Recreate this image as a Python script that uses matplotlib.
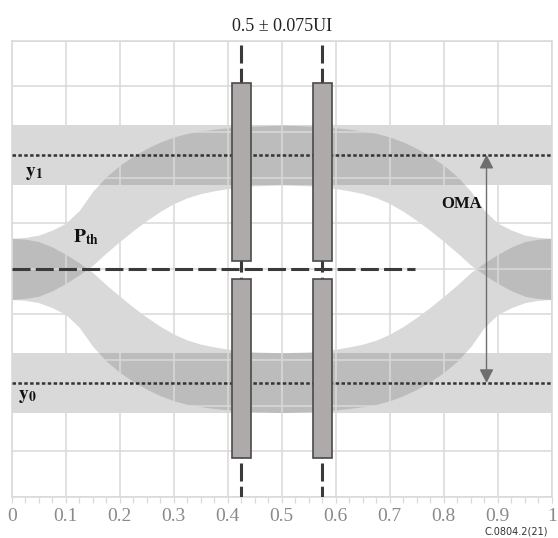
import numpy as np
import matplotlib
matplotlib.use("Agg")
import matplotlib.pyplot as plt
from matplotlib.patches import Rectangle

plt.rcParams['font.family'] = ['Liberation Serif', 'DejaVu Serif']
plt.rcParams['mathtext.fontset'] = 'stix'

# ---- data ----
x_half = [0, 0.025, 0.05, 0.075, 0.1, 0.125, 0.15, 0.175, 0.2, 0.225, 0.25,
          0.275, 0.3, 0.325, 0.35, 0.375, 0.4, 0.425, 0.45, 0.475, 0.5]
upper_edge = [0.567, 0.569, 0.574, 0.585, 0.600, 0.628, 0.670, 0.702, 0.727, 0.747, 0.764,
              0.778, 0.789, 0.797, 0.802, 0.806, 0.809, 0.811, 0.813, 0.814, 0.815]
lower_edge = [0.433, 0.435, 0.440, 0.452, 0.468, 0.487, 0.508, 0.535, 0.560, 0.584, 0.606,
              0.626, 0.643, 0.656, 0.665, 0.671, 0.676, 0.679, 0.682, 0.683, 0.684]

y1_level, y0_level = 0.75, 0.25
band_half = 0.066
p_th = 0.5
threshold_end = 0.746
sample_centers = [0.425, 0.575]
sample_line_top = 0.99
box_width = 0.035
box_upper = (0.518, 0.907)
box_lower = (0.086, 0.477)
oma_x = 0.879
tick_values = [0, 0.1, 0.2, 0.3, 0.4, 0.5, 0.6, 0.7, 0.8, 0.9, 1.0]
tick_labels = ['0', '0.1', '0.2', '0.3', '0.4', '0.5', '0.6', '0.7', '0.8', '0.9', '1']
title = '0.5 ± 0.075UI'

# ---- build full traces by mirroring the half eye ----
xh = np.array(x_half)
ue = np.array(upper_edge)
le = np.array(lower_edge)
x_full = np.concatenate([xh, 1 - xh[::-1][1:]])
up_full = np.concatenate([ue, ue[::-1][1:]])
lo_full = np.concatenate([le, le[::-1][1:]])

fig = plt.figure(figsize=(5.58, 5.38), dpi=100)
ax = fig.add_axes([0.021, 0.0762, 0.968, 0.8481])
ax.set_xlim(0, 1)
ax.set_ylim(0, 1)

fc = (95/255, 95/255, 95/255)
a = 0.237
# horizontal noise bands
ax.fill_between([0, 1], y1_level - band_half, y1_level + band_half, color=fc, alpha=a, lw=0, zorder=1)
ax.fill_between([0, 1], y0_level - band_half, y0_level + band_half, color=fc, alpha=a, lw=0, zorder=1)
# eye traces
ax.fill_between(x_full, lo_full, up_full, color=fc, alpha=a, lw=0, zorder=1)
ax.fill_between(x_full, 1 - up_full, 1 - lo_full, color=fc, alpha=a, lw=0, zorder=1)

# grid
gc = '#d9d9d9'
ax.set_xticks(tick_values)
ax.set_xticklabels(tick_labels)
ax.set_xticks(np.arange(0, 1.0001, 0.025), minor=True)
ax.set_yticks(tick_values)
ax.grid(True, which='major', color=gc, lw=1.1)
ax.set_axisbelow(False)
for s in ax.spines.values():
    s.set_color(gc)
    s.set_linewidth(1.1)
ax.tick_params(axis='x', which='both', direction='out', length=4, width=0.9,
               color=gc, labelsize=14, labelcolor='#8a8a8a', pad=4)
ax.tick_params(axis='y', which='both', length=0, labelleft=False)

# threshold dashed line
ax.plot([0, threshold_end], [p_th, p_th], color='#3a3a3a', lw=2.2, dashes=(5.9, 1.7),
        solid_capstyle='butt', dash_capstyle='butt', zorder=3)
# y1 / y0 dotted lines
for lev in (y1_level, y0_level):
    ax.plot([0, 1], [lev, lev], color='#333333', lw=1.8, dashes=(1.4, 0.95),
            dash_capstyle='butt', zorder=3)
# vertical dashed sampling lines
for xc in sample_centers:
    ax.plot([xc, xc], [sample_line_top, 0], color='#3a3a3a', lw=2.2, dashes=(5.9, 1.7),
            dash_capstyle='butt', zorder=3)
# boxes
for xc in sample_centers:
    for (b0, b1) in (box_upper, box_lower):
        ax.add_patch(Rectangle((xc - box_width / 2, b0), box_width, b1 - b0,
                               facecolor='#aeaaaa', edgecolor='#4a4a4a', lw=1.2, zorder=5))

# OMA arrow
ax.annotate('', xy=(oma_x, y1_level), xytext=(oma_x, y0_level),
            arrowprops=dict(arrowstyle='<|-|>,head_length=0.55,head_width=0.28',
                            color='#6e6e6e', lw=1.0, shrinkA=0, shrinkB=0, mutation_scale=15),
            zorder=4)
ax.text(0.833, 0.642, 'OMA', fontsize=12, fontweight='bold', ha='center', va='center',
        color='#111111', zorder=6)

ax.text(0.025, 0.71, r'$\mathbf{y_1}$', fontsize=14, ha='left', va='center', color='#111111', zorder=6)
ax.text(0.012, 0.22, r'$\mathbf{y_0}$', fontsize=14, ha='left', va='center', color='#111111', zorder=6)
ax.text(0.113, 0.57, r'$\mathbf{P_{th}}$', fontsize=14, ha='left', va='center', color='#111111', zorder=6)

ax.text(0.5, 1.031, title, fontsize=13, ha='center', va='center', color='#222222',
        transform=ax.transAxes)

fig.text(0.868, 0.002, 'C.0804.2(21)', fontsize=7, ha='left', va='bottom',
         family='DejaVu Sans', color='#333333')

fig.savefig('out.png', dpi=100)
